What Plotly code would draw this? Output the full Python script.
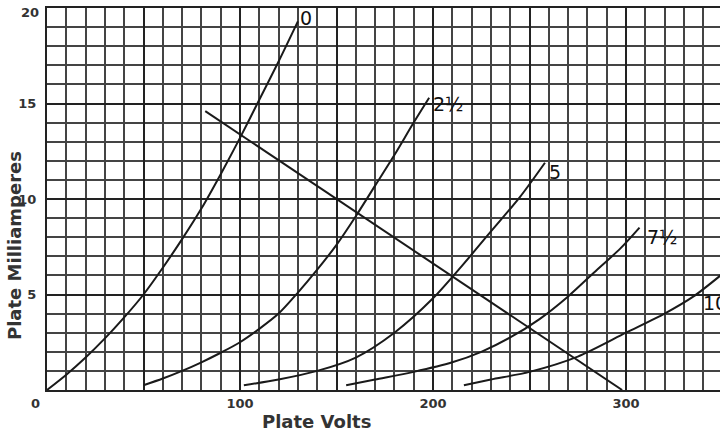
import plotly.graph_objects as go

# Plate characteristic curves (grid bias volts as labels)
bias_labels = ["0", "2½", "5", "7½", "10"]

v_0 = [0, 10, 20, 30, 40, 50, 60, 70, 80, 90, 100, 110, 120, 130]
i_0 = [0, 0.8, 1.7, 2.7, 3.8, 5.0, 6.4, 7.9, 9.5, 11.3, 13.2, 15.2, 17.2, 19.3]

v_25 = [50, 60, 70, 80, 90, 100, 110, 120, 130, 140, 150, 160, 170, 180, 190, 198]
i_25 = [0.25, 0.6, 1.0, 1.45, 1.95, 2.5, 3.2, 4.0, 5.1, 6.3, 7.6, 9.1, 10.7, 12.3, 14.0, 15.3]

v_5 = [102, 120, 140, 160, 180, 200, 215, 230, 245, 258]
i_5 = [0.25, 0.55, 1.0, 1.7, 3.0, 4.8, 6.5, 8.3, 10.1, 11.9]

v_75 = [155, 170, 190, 210, 225, 240, 255, 270, 285, 297, 307]
i_75 = [0.25, 0.55, 0.95, 1.45, 2.0, 2.75, 3.7, 4.9, 6.3, 7.4, 8.5]

v_10 = [216, 230, 250, 275, 300, 320, 335, 349]
i_10 = [0.25, 0.55, 0.95, 1.75, 3.0, 4.0, 4.9, 6.0]

# Load line
load_v = [82, 298]
load_i = [14.6, 0]

# Curve label positions (data coords)
label_v = [134, 208, 263, 319, 339]
label_i = [19.5, 15.0, 11.4, 8.0, 4.55]

x_tickvals = [0, 50, 100, 150, 200, 250, 300]
x_ticktext = ["", "", "100", "", "200", "", "300"]
y_tickvals = [0, 5, 10, 15, 20]
y_ticktext = ["", "5", "10", "15", ""]

W, H = 720, 432
ml, mr, mt, mb = 47, 0, 8, 42
pw, ph = W - ml - mr, H - mt - mb


def px(x):
    return (x - ml) / pw


def py(y):
    return (H - mb - y) / ph


fig = go.Figure()
line = dict(color="#1a1a1a", width=2)
for vx, iy in [(v_0, i_0), (v_25, i_25), (v_5, i_5), (v_75, i_75), (v_10, i_10)]:
    fig.add_trace(go.Scatter(x=vx, y=iy, mode="lines",
                             line=dict(color="#1a1a1a", width=2, shape="spline", smoothing=0.8),
                             hoverinfo="skip", showlegend=False))
fig.add_trace(go.Scatter(x=load_v, y=load_i, mode="lines", line=line,
                         hoverinfo="skip", showlegend=False))

lab_font = dict(family="DejaVu Sans", size=19, color="#111")
for k, (lbl, lv, li) in enumerate(zip(bias_labels, label_v, label_i)):
    fig.add_annotation(x=lv, y=li, text=lbl, showarrow=False, font=lab_font,
                       xanchor="left" if k == 4 else "center", yanchor="middle")

tick_font = dict(family="DejaVu Sans", size=13, color="#333", weight="bold")
fig.add_annotation(x=px(35), y=py(403), xref="paper", yref="paper", text="0", showarrow=False,
                   font=tick_font, xanchor="center", yanchor="middle")
fig.add_annotation(x=px(41), y=py(13), xref="paper", yref="paper", text=str(y_tickvals[-1]),
                   showarrow=False, font=tick_font, xanchor="right", yanchor="middle")
title_font = dict(family="DejaVu Sans", size=18, color="#333", weight="bold")
fig.add_annotation(x=px(316), y=py(421), xref="paper", yref="paper", text="Plate Volts",
                   showarrow=False, font=title_font, xanchor="center", yanchor="middle")
fig.add_annotation(x=px(14), y=py(246), xref="paper", yref="paper", text="Plate Milliamperes",
                   showarrow=False, textangle=-90, font=title_font,
                   xanchor="center", yanchor="middle")

fig.update_xaxes(range=[0, 348.7], tickvals=x_tickvals, ticktext=x_ticktext,
                 showgrid=True, gridcolor="#222", gridwidth=2.2,
                 minor=dict(dtick=10, showgrid=True, gridcolor="#444", gridwidth=1.6),
                 zeroline=False, showline=True, linecolor="#222", linewidth=2, mirror=True,
                 ticks="", tickfont=tick_font, ticklabelstandoff=0, automargin=False)
fig.update_yaxes(range=[0, 20], tickvals=y_tickvals, ticktext=y_ticktext,
                 showgrid=True, gridcolor="#222", gridwidth=2.2,
                 minor=dict(dtick=1, showgrid=True, gridcolor="#444", gridwidth=1.6),
                 zeroline=False, showline=True, linecolor="#222", linewidth=2, mirror=True,
                 ticks="", tickfont=tick_font, ticklabelstandoff=6, automargin=False)
fig.update_layout(width=W, height=H, margin=dict(l=ml, r=mr, t=mt, b=mb, autoexpand=False),
                  plot_bgcolor="white", paper_bgcolor="white", showlegend=False)
fig.write_html("out.html", config={"displayModeBar": False},
               post_script="document.body.style.margin='0';")
